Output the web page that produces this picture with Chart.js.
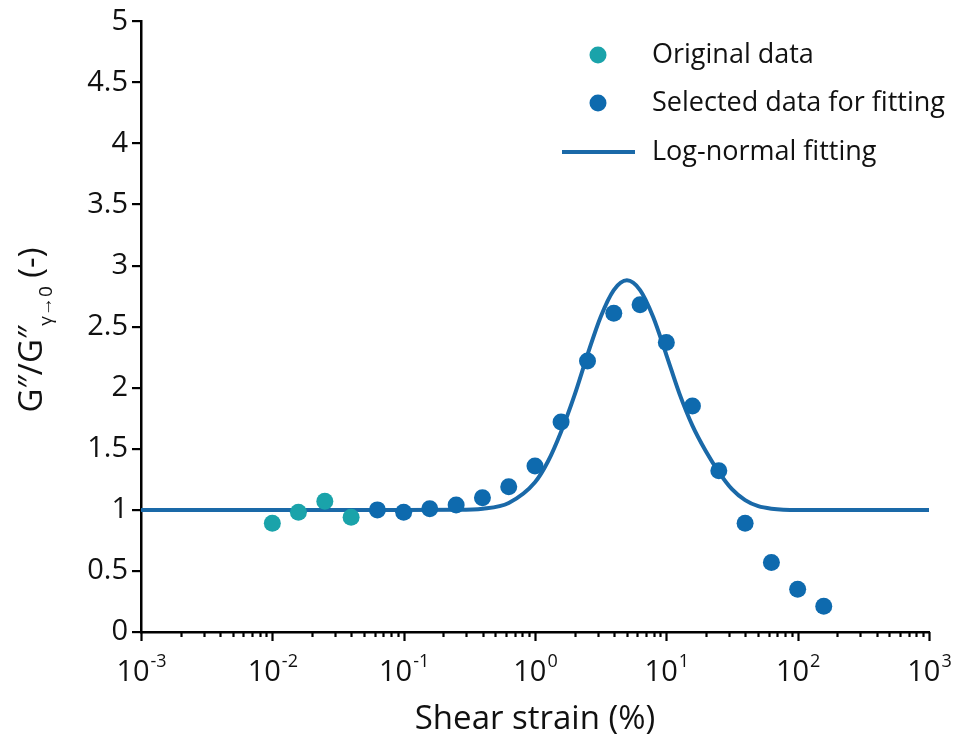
<!DOCTYPE html>
<html>
<head>
<meta charset="utf-8">
<script src="https://cdn.jsdelivr.net/npm/chart.js@4.4.0/dist/chart.umd.min.js"></script>
<style>
  html, body { margin: 0; padding: 0; background: #fff; }
  #wrap { width: 954px; height: 742px; }
</style>
</head>
<body>
<div id="wrap"><canvas id="strainChart" width="954" height="742"></canvas></div>
<script>
// shear strain (%) and normalised loss modulus
const strainOriginal = [0.01, 0.0158, 0.0251, 0.0398];
const ratioOriginal = [0.89, 0.98, 1.07, 0.94];

const strainSelected = [0.0631, 0.1, 0.158, 0.251, 0.398, 0.631, 1, 1.58, 2.51, 3.98, 6.31, 10, 15.8, 25.1, 39.8, 63.1, 100, 158];
const ratioSelected = [1.00, 0.98, 1.01, 1.04, 1.10, 1.19, 1.36, 1.72, 2.22, 2.61, 2.68, 2.37, 1.85, 1.32, 0.89, 0.57, 0.35, 0.21];

// log-normal fit curve
const strainFit = [0.001, 0.01, 0.1, 0.25, 0.4, 0.631, 1, 1.26, 1.58, 2, 2.51, 3.16, 3.98, 5.01, 6.31, 7.94, 10, 12.6, 15.8, 20, 25.1, 31.6, 39.8, 50.1, 63.1, 100, 1000];
const ratioFit = [1, 1, 1, 1.001, 1.01, 1.057, 1.226, 1.40, 1.64, 1.94, 2.27, 2.58, 2.80, 2.88, 2.80, 2.58, 2.27, 1.95, 1.69, 1.48, 1.31, 1.17, 1.08, 1.03, 1.01, 1.0, 1];

const decades = [-3, -2, -1, 0, 1, 2, 3];
const legendLabels = ['Original data', 'Selected data for fitting', 'Log-normal fitting'];

const tealColor = '#1aa3aa';
const blueColor = '#0e6aae';
const lineColor = '#1a69a8';
const fontFamily = "'Open Sans', sans-serif";

Chart.defaults.font.family = fontFamily;
Chart.defaults.color = '#111';

const toPoints = (xs, ys) => xs.map((x, i) => ({ x: x, y: ys[i] }));

// ticks, axis labels and legend drawn on top of the chart
const decorations = {
  id: 'decorations',
  afterDraw(chart) {
    const { ctx, chartArea, scales: { x, y } } = chart;
    ctx.save();
    ctx.strokeStyle = '#000';
    ctx.fillStyle = '#111';

    // major and minor ticks on the log axis
    const base = chartArea.bottom;
    ctx.lineWidth = 2.2;
    for (let k = -3; k <= 3; k++) {
      for (let m = 1; m <= 9; m++) {
        if (k === 3 && m > 1) break;
        const px = Math.round(x.getPixelForValue(m * Math.pow(10, k))) + 0.5;
        const len = m === 1 ? 9 : 5;
        ctx.beginPath();
        ctx.moveTo(px, base);
        ctx.lineTo(px, base + len);
        ctx.stroke();
      }
    }

    // 10^k labels
    ctx.textBaseline = 'alphabetic';
    decades.forEach(k => {
      const px = x.getPixelForValue(Math.pow(10, k));
      const mant = '10';
      const expo = String(k);
      ctx.font = '29px ' + fontFamily;
      const w1 = ctx.measureText(mant).width;
      ctx.font = '18px ' + fontFamily;
      const w2 = ctx.measureText(expo).width;
      const left = px - (w1 + w2) / 2;
      ctx.font = '29px ' + fontFamily;
      ctx.textAlign = 'left';
      ctx.fillText(mant, left, 681);
      ctx.font = '18px ' + fontFamily;
      ctx.fillText(expo, left + w1 + 1, 667);
    });

    // y axis title with subscript
    ctx.save();
    ctx.translate(42, 330);
    ctx.rotate(-Math.PI / 2);
    const parts = [
      { t: 'G\u2033/G\u2033', f: '33px ', dy: 0 },
      { t: '\u03b3\u21920', f: '19px ', dy: 10 },
      { t: ' (-)', f: '33px ', dy: 0 }
    ];
    let total = 0;
    parts.forEach(p => { ctx.font = p.f + fontFamily; p.w = ctx.measureText(p.t).width; total += p.w; });
    let cx = -total / 2;
    ctx.textAlign = 'left';
    parts.forEach(p => {
      ctx.font = p.f + fontFamily;
      ctx.fillText(p.t, cx, p.dy);
      cx += p.w;
    });
    ctx.restore();

    // legend
    ctx.font = '27px ' + fontFamily;
    ctx.textAlign = 'left';
    ctx.textBaseline = 'middle';
    const rows = [55, 103, 152];
    ctx.fillStyle = tealColor;
    ctx.beginPath(); ctx.arc(598, rows[0], 8.5, 0, Math.PI * 2); ctx.fill();
    ctx.fillStyle = blueColor;
    ctx.beginPath(); ctx.arc(598, rows[1], 8.5, 0, Math.PI * 2); ctx.fill();
    ctx.strokeStyle = lineColor;
    ctx.lineWidth = 4;
    ctx.beginPath(); ctx.moveTo(562, rows[2]); ctx.lineTo(635, rows[2]); ctx.stroke();
    ctx.fillStyle = '#111';
    legendLabels.forEach((txt, i) => ctx.fillText(txt, 652, rows[i]));

    ctx.restore();
  }
};

const chartConfig = {
  type: 'scatter',
  data: {
    datasets: [
      {
        label: legendLabels[0],
        data: toPoints(strainOriginal, ratioOriginal),
        backgroundColor: tealColor,
        borderWidth: 0,
        pointRadius: 8.5,
        order: 0
      },
      {
        label: legendLabels[1],
        data: toPoints(strainSelected, ratioSelected),
        backgroundColor: blueColor,
        borderWidth: 0,
        pointRadius: 8.5,
        order: 1
      },
      {
        label: legendLabels[2],
        data: toPoints(strainFit, ratioFit),
        showLine: true,
        borderColor: lineColor,
        borderWidth: 4,
        pointRadius: 0,
        cubicInterpolationMode: 'monotone',
        order: 2
      }
    ]
  },
  options: {
    responsive: false,
    animation: false,
    layout: { padding: { top: 19, right: 25, left: 0, bottom: 0 } },
    plugins: {
      legend: { display: false },
      tooltip: { enabled: false }
    },
    scales: {
      x: {
        type: 'logarithmic',
        min: 0.001,
        max: 1000,
        grid: { display: false },
        border: { display: true, color: '#000', width: 2.5 },
        ticks: { display: false },
        title: {
          display: true,
          text: 'Shear strain (%)',
          font: { size: 33 },
          color: '#111',
          padding: { top: 0, bottom: 3 }
        },
        afterFit(scale) { scale.height = 110; }
      },
      y: {
        min: 0,
        max: 5,
        grid: { drawOnChartArea: false, color: '#000', lineWidth: 2.2, tickLength: 9 },
        border: { display: true, color: '#000', width: 2.5 },
        ticks: {
          stepSize: 0.5,
          font: { size: 29 },
          color: '#111',
          padding: 4,
          callback: (value) => String(value)
        },
        afterFit(scale) { scale.width = 141; }
      }
    }
  },
  plugins: [decorations]
};

const strainChart = new Chart(document.getElementById('strainChart'), chartConfig);
</script>
</body>
</html>
